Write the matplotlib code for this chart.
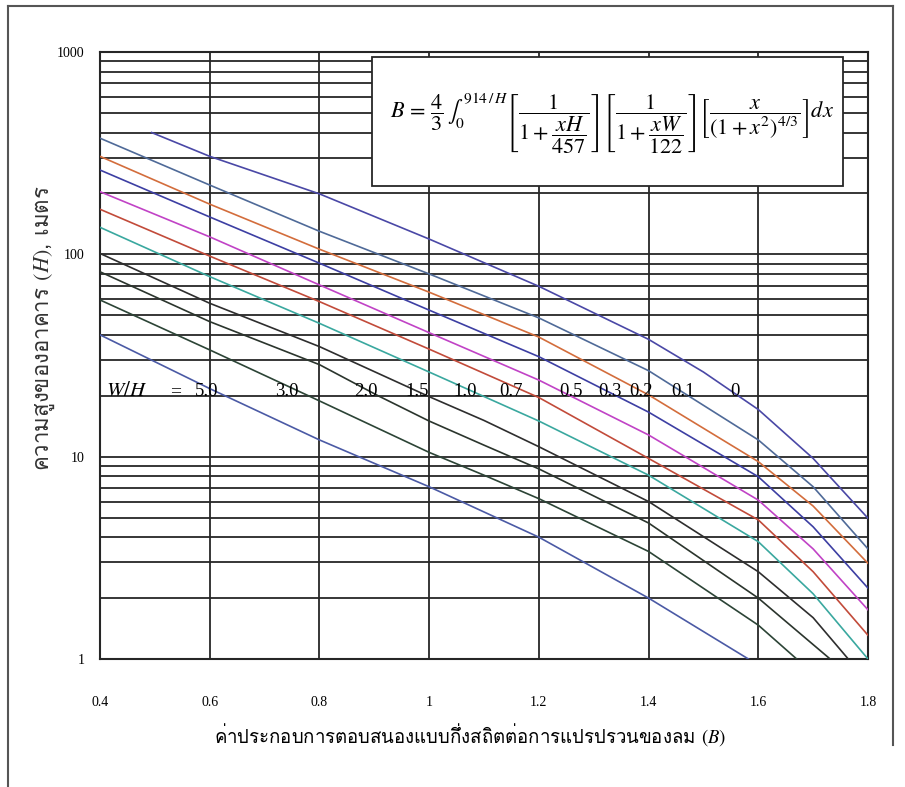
import numpy as np
import matplotlib
matplotlib.use("Agg")
import matplotlib.pyplot as plt
from matplotlib import font_manager
from matplotlib.ft2font import FT2Font
from matplotlib.patches import Rectangle
from matplotlib.lines import Line2D
from matplotlib.ticker import FixedLocator, FixedFormatter, LogLocator, NullFormatter

plt.rcParams['mathtext.fontset'] = 'stix'

# --- data: B (x) against building height H (y) per W/H ---
B_0 = [0.494, 0.6, 0.8, 1.0, 1.2, 1.4, 1.5, 1.6, 1.7, 1.8]
H_0 = [400, 305, 199, 119, 69.5, 38, 26.2, 17.1, 9.8, 4.96]

B_common = [0.4, 0.6, 0.8, 1.0, 1.2, 1.4, 1.6, 1.7, 1.8]
H_01 = [375, 220, 130, 80, 48.5, 26.6, 12.1, 7.1, 3.5]
H_02 = [305, 177, 106, 65, 39, 20.2, 9.45, 5.7, 2.97]
H_03 = [261, 153, 90.4, 53, 31.2, 16.6, 7.96, 4.5, 2.24]
H_05 = [204, 122, 70.6, 41, 23.9, 12.8, 6.1, 3.5, 1.75]
H_07 = [167, 98, 58.4, 34, 19.6, 9.8, 4.87, 2.7, 1.31]
H_10 = [136, 77.6, 45.6, 26.2, 15.0, 8.1, 3.8, 2.1, 1.0]

B_15 = [0.4, 0.6, 0.8, 1.0, 1.1, 1.2, 1.4, 1.6, 1.7, 1.764]
H_15 = [101, 57.3, 35, 19.8, 15.1, 11.2, 6.0, 2.7, 1.6, 1.0]
B_20 = [0.4, 0.6, 0.8, 0.907, 1.0, 1.1, 1.2, 1.4, 1.6, 1.731]
H_20 = [82, 46.5, 28.5, 20, 15, 11.4, 8.7, 4.7, 2.0, 1.0]
B_30 = [0.4, 0.6, 0.78, 1.0, 1.1, 1.2, 1.4, 1.6, 1.67]
H_30 = [59.5, 33.7, 20, 10.5, 8.1, 6.2, 3.4, 1.47, 1.0]
B_50 = [0.4, 0.6, 0.8, 1.0, 1.2, 1.4, 1.582]
H_50 = [40, 21.7, 12.1, 7.1, 4.0, 2.0, 1.0]

wh_labels = ['0', '0.1', '0.2', '0.3', '0.5', '0.7', '1.0', '1.5', '2.0', '3.0', '5.0']

x_ticks = [0.4, 0.6, 0.8, 1.0, 1.2, 1.4, 1.6, 1.8]
x_tick_labels = ['0.4', '0.6', '0.8', '1', '1.2', '1.4', '1.6', '1.8']
y_ticks = [1, 10, 100, 1000]
y_tick_labels = ['1', '10', '100', '1000']

x_title = 'ค่าประกอบการตอบสนองแบบกึ่งสถิตต่อการแปรปรวนของลม $(B)$'
y_title = 'ความสูงของอาคาร $(H)$, เมตร'


def find_thai_font():
    # pick any installed face that actually has Thai glyphs
    for f in font_manager.fontManager.ttflist:
        try:
            if FT2Font(f.fname).get_char_index(0x0E04):
                return f.name
        except Exception:
            pass
    return 'DejaVu Sans'


thai_font = find_thai_font()

curves = [
    (B_0, H_0, '#4a48a6'),
    (B_common, H_01, '#4f6a98'),
    (B_common, H_02, '#d36d3c'),
    (B_common, H_03, '#3d3fa3'),
    (B_common, H_05, '#c143c6'),
    (B_common, H_07, '#c24b3a'),
    (B_common, H_10, '#3aa89f'),
    (B_15, H_15, '#2e2e2e'),
    (B_20, H_20, '#2b352d'),
    (B_30, H_30, '#2c4436'),
    (B_50, H_50, '#4b5aa5'),
]

fig = plt.figure(figsize=(9.05, 7.87), dpi=100, facecolor='white')
ax = fig.add_axes([100 / 905, 1 - 659 / 787, 768 / 905, 607 / 787])

ax.set_yscale('log')
ax.set_xlim(0.4, 1.8)
ax.set_ylim(1, 1000)

for b, h, c in curves:
    ax.plot(b, h, color=c, lw=1.2, zorder=3, solid_joinstyle='round')

# grid like the original: every decade subdivision plus 0.2 steps in B
ax.xaxis.set_major_locator(FixedLocator(x_ticks))
ax.xaxis.set_major_formatter(FixedFormatter(x_tick_labels))
ax.yaxis.set_major_locator(FixedLocator(y_ticks))
ax.yaxis.set_major_formatter(FixedFormatter(y_tick_labels))
ax.yaxis.set_minor_locator(LogLocator(base=10, subs=np.arange(2, 10)))
ax.yaxis.set_minor_formatter(NullFormatter())
ax.grid(which='major', axis='both', color='#262626', lw=1.3)
ax.grid(which='minor', axis='y', color='#262626', lw=1.3)
ax.set_axisbelow(True)
for s in ax.spines.values():
    s.set_color('#262626')
    s.set_linewidth(1.5)

ax.tick_params(which='both', length=0)
ax.tick_params(axis='x', pad=27, labelsize=10)
ax.tick_params(axis='y', pad=11, labelsize=10)
for lab in ax.get_xticklabels() + ax.get_yticklabels():
    lab.set_family('Liberation Serif')

# W/H labels sitting on the H = 20 grid line
ax.text(0.449, 20, '$W/H$', ha='center', va='baseline', fontsize=15, zorder=4)
ax.text(0.537, 20, '=', ha='center', va='baseline', fontsize=14,
        family='Liberation Serif', zorder=4)
label_x = [1.557, 1.463, 1.386, 1.33, 1.259, 1.149, 1.065, 0.978, 0.885, 0.741, 0.595]
for lx, txt in zip(label_x, wh_labels):
    ax.text(lx, 20, txt, ha='center', va='baseline', fontsize=13.5,
            family='Liberation Serif', zorder=4)

# formula box
ax.add_patch(Rectangle((0.354, 0.779), 0.613, 0.213, transform=ax.transAxes,
                       facecolor='white', edgecolor='#262626', lw=1.3, zorder=5))
formula = (r'$B\,=\,\dfrac{4}{3}\,\int_0^{914\,/\,H}\left[\dfrac{1}{1+\dfrac{xH}{457}}\right]'
           r'\left[\dfrac{1}{1+\dfrac{xW}{122}}\right]'
           r'\left[\dfrac{x}{\left(1+x^{2}\right)^{4/3}}\right]dx$')
ax.text(0.667, 0.882, formula, transform=ax.transAxes, ha='center', va='center',
        fontsize=16, zorder=6)

# axis titles
fig.text(470 / 905, 1 - 735 / 787, x_title, ha='center', va='center',
         fontsize=13.4, family=[thai_font, 'DejaVu Sans'])
fig.text(45 / 905, 1 - 328 / 787, y_title, ha='center', va='center', rotation=90,
         fontsize=16, family=[thai_font, 'DejaVu Sans'], color='#333333')

# outer frame
frame_kw = dict(color='#555555', lw=1.5, transform=fig.transFigure)
fig.add_artist(Line2D([8 / 905, 8 / 905], [0, 1 - 6 / 787], **frame_kw))
fig.add_artist(Line2D([8 / 905, 893 / 905], [1 - 6 / 787, 1 - 6 / 787], **frame_kw))
fig.add_artist(Line2D([893 / 905, 893 / 905], [1 - 6 / 787, 1 - 745 / 787], **frame_kw))

fig.savefig('out.png', dpi=100, facecolor='white')
